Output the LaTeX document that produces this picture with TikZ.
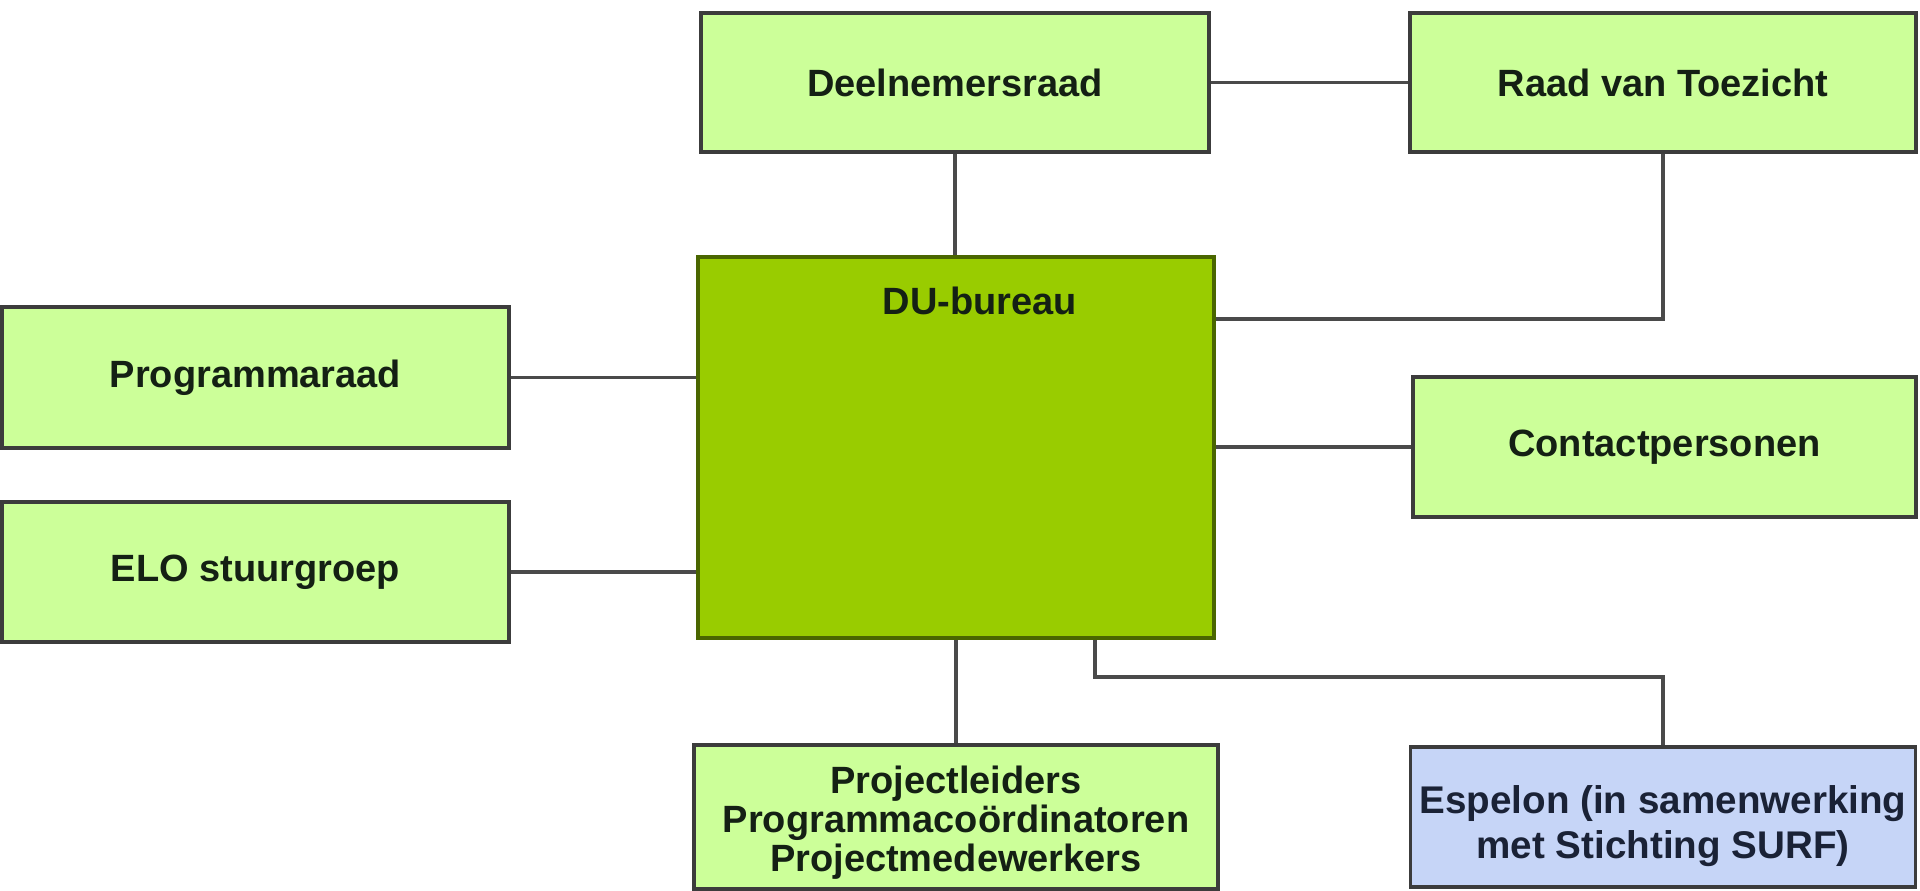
\documentclass[tikz,border=0pt]{standalone}
\usepackage{fontspec}
\setmainfont{Liberation Sans}
\definecolor{lightgreen}{HTML}{CCFF99}
\definecolor{dugreen}{HTML}{99CC00}
\definecolor{espblue}{HTML}{C6D5F7}
\definecolor{boxline}{HTML}{3C3C3C}
\definecolor{duline}{HTML}{4A6600}
\definecolor{connline}{HTML}{4A4A4A}
\definecolor{txt}{HTML}{142014}
\definecolor{esptxt}{HTML}{1A2236}
\tikzset{
  orgbox/.style={draw=boxline, line width=3.5pt, fill=lightgreen, rectangle, inner sep=0pt,
    align=center, text=txt, font=\fontsize{38}{39}\selectfont\bfseries},
  conn/.style={draw=connline, line width=3.2pt, line join=miter},
}
\begin{document}
\begin{tikzpicture}[x=1pt,y=-1pt]
\useasboundingbox[fill=white] (0,0) rectangle (1920,891);
\node[orgbox, minimum width=508pt, minimum height=139pt] (deel) at (955,82.5) {Deelnemersraad};
\node[orgbox, minimum width=506pt, minimum height=139pt] (raad) at (1663,82.5) {Raad van Toezicht};
\node[orgbox, fill=dugreen, draw=duline, minimum width=516pt, minimum height=381pt] (du) at (956,447.5) {};
\node[text=txt, font=\fontsize{38}{39}\selectfont\bfseries, inner sep=0pt] (dutxt) at (980,301) {DU-bureau};
\node[orgbox, minimum width=507pt, minimum height=141pt] (prog) at (255.5,377.5) {Programmaraad};
\node[orgbox, minimum width=507pt, minimum height=140pt] (elo) at (255.5,572) {ELO stuurgroep};
\node[orgbox, minimum width=503pt, minimum height=140pt] (cont) at (1664.5,447) {Contactpersonen};
\node[orgbox, minimum width=524pt, minimum height=144pt] (proj) at (956,817) {\rule{0pt}{38pt}Projectleiders\\Programmaco\"ordinatoren\\Projectmedewerkers};
\node[orgbox, fill=espblue, text=esptxt, minimum width=505pt, minimum height=140pt, font=\fontsize{38.6}{45}\selectfont\bfseries] (esp) at (1663,817) {\rule{0pt}{47pt}Espelon (in samenwerking\\met Stichting SURF)};
\coordinate (r1) at (1663,319);
\coordinate (e1) at (1095,677);
\draw[conn] (deel.east) -- (raad.west);
\draw[conn] (deel.south) -- (deel.south |- du.north);
\draw[conn] (raad.south) -- (r1) -- (r1 -| du.east);
\draw[conn] (prog.east) -- (prog.east -| du.west);
\draw[conn] (elo.east) -- (elo.east -| du.west);
\draw[conn] (cont.west -| du.east) -- (cont.west);
\draw[conn] (du.south) -- (du.south |- proj.north);
\draw[conn] (e1 |- du.south) -- (e1) -| (esp.north);
\end{tikzpicture}
\end{document}
